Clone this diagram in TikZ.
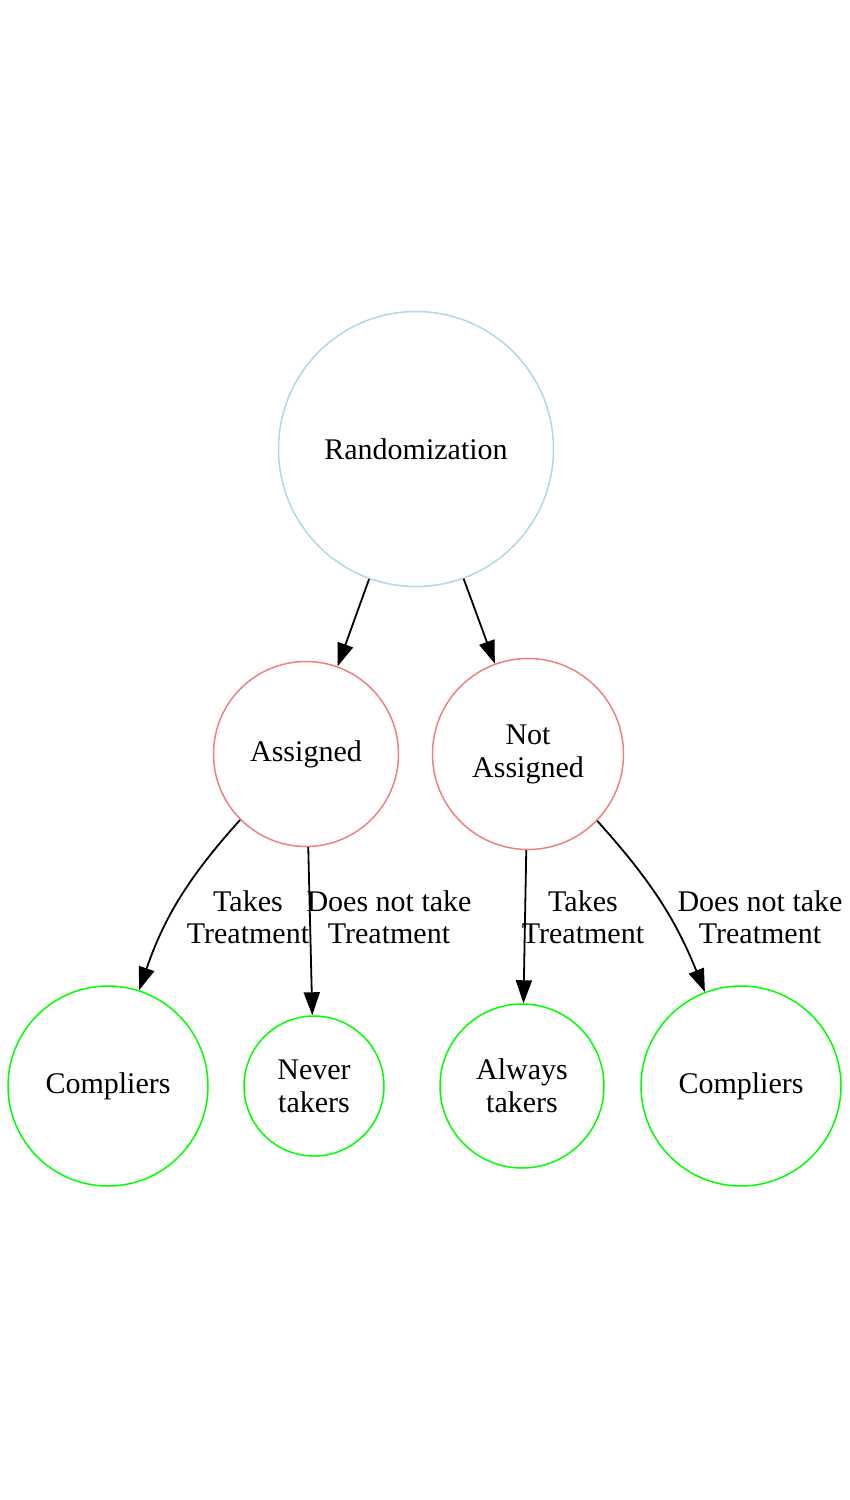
\documentclass[tikz,border=0pt]{standalone}
\usepackage{fontspec}
\setmainfont{Liberation Serif}
\usetikzlibrary{arrows.meta}
\definecolor{randblue}{RGB}{173,216,230}
\definecolor{armred}{RGB}{240,128,128}
\definecolor{typegreen}{RGB}{0,255,0}
\begin{document}
\begin{tikzpicture}[x=0.5pt, y=-0.5pt,
  state/.style={circle, draw, line width=0.75pt, inner sep=0pt, align=center, font=\fontsize{15}{16.5}\selectfont},
  edgelabel/.style={align=center, inner sep=0pt, font=\fontsize{15}{16}\selectfont},
  flow/.style={-{Triangle[length=11.5pt, width=8pt]}, line width=0.9pt}]
\def\randsize{137.5pt}
\def\armsize{94pt}

\useasboundingbox (0, 0) rectangle (850, 1500);

% top level
\node [state, randblue, text=black, minimum size=\randsize] (rand) at (416, 449) {Randomization};

% arms
\node [state, armred, text=black, minimum size=92.5pt] (assigned) at (306, 754) {Assigned};
\node [state, armred, text=black, minimum size=95.5pt] (notassigned) at (528, 754) {Not\\Assigned};

% types
\node [state, typegreen, text=black, minimum size=100pt] (compA) at (108, 1086) {Compliers};
\node [state, typegreen, text=black, minimum size=70pt] (never) at (314, 1086) {Never\\takers};
\node [state, typegreen, text=black, minimum size=82pt] (always) at (522, 1086) {Always\\takers};
\node [state, typegreen, text=black, minimum size=100pt] (compB) at (741, 1086) {Compliers};

\draw [flow] (rand) -- (assigned);
\draw [flow] (rand) -- (notassigned);

\draw [flow] (assigned.-135) to [out=-132, in=71] (compA.72);
\draw [flow] (assigned) -- (never);
\draw [flow] (notassigned) -- (always);
\draw [flow] (notassigned.-44) to [out=-48, in=112] (compB.111);

% edge labels
\node [edgelabel] (takesA) at (248, 917) {Takes\\Treatment};
\node [edgelabel] (notakeA) at (389, 917) {Does not take\\Treatment};
\node [edgelabel] (takesB) at (583, 917) {Takes\\Treatment};
\node [edgelabel] (notakeB) at (760, 917) {Does not take\\Treatment};

\end{tikzpicture}
\end{document}
